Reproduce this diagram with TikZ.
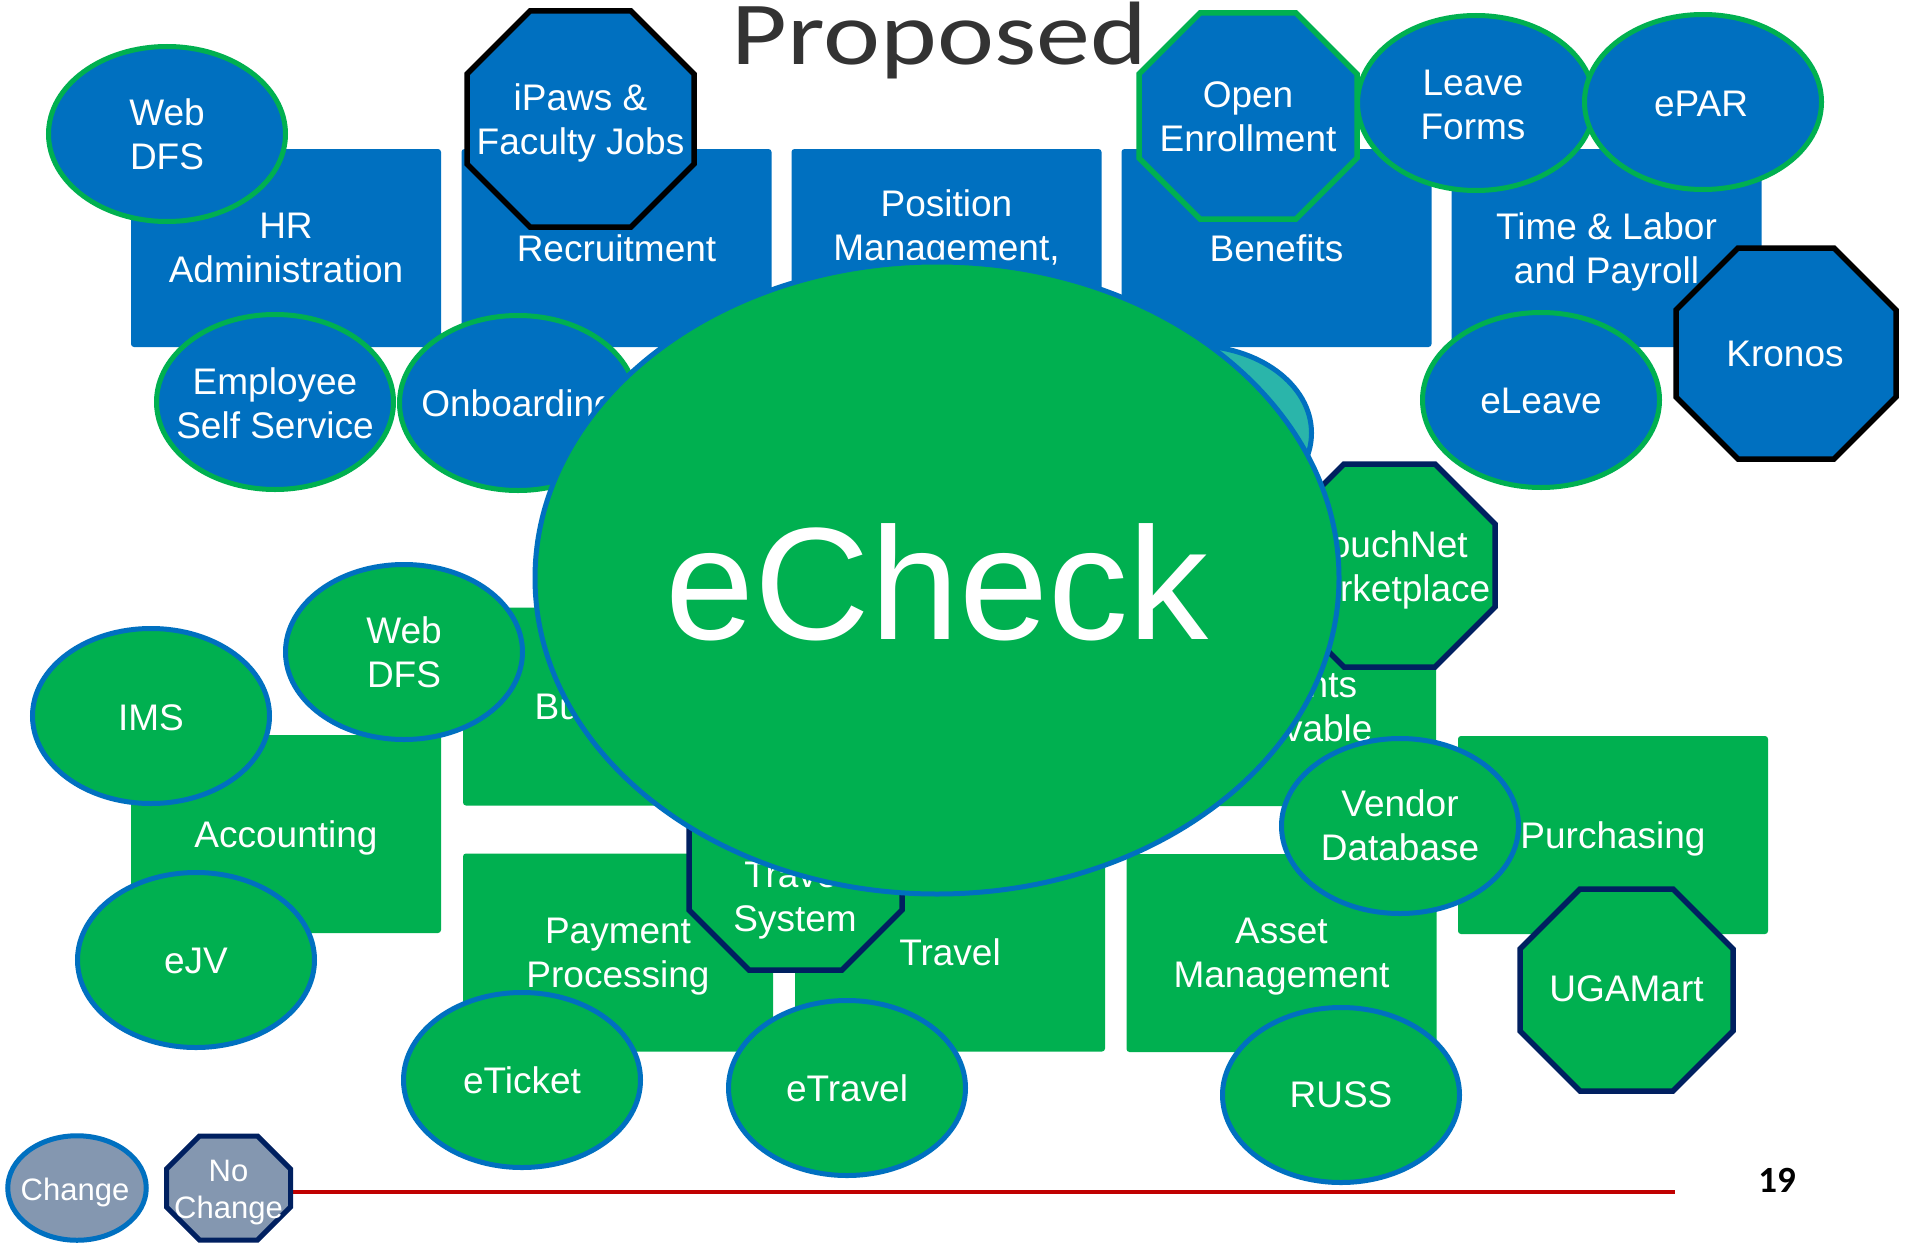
\documentclass[tikz,border=0pt]{standalone}
\usepackage{fontspec}
\setmainfont{Liberation Sans}
\newfontfamily\titlefont{Carlito}
\usetikzlibrary{shapes.geometric}
\definecolor{oblue}{HTML}{0070C0}
\definecolor{ogreen}{HTML}{00B050}
\definecolor{onavy}{HTML}{002060}
\definecolor{oteal}{HTML}{2AB5AA}
\definecolor{ogray}{HTML}{8497B0}
\definecolor{otitle}{HTML}{333333}
\definecolor{ored}{HTML}{C00000}
% octagon: style, cx, cy, half width, half height, corner cut
\newcommand\octpath[6]{%
  \draw[#1] ({#2-#4+#6},{#3-#5}) -- ({#2+#4-#6},{#3-#5}) -- ({#2+#4},{#3-#5+#6})
    -- ({#2+#4},{#3+#5-#6}) -- ({#2+#4-#6},{#3+#5}) -- ({#2-#4+#6},{#3+#5})
    -- ({#2-#4},{#3+#5-#6}) -- ({#2-#4},{#3-#5+#6}) -- cycle;}
\tikzset{
  box/.style={rectangle, rounded corners=3pt, inner sep=0pt, minimum width=310pt,
    minimum height=198pt, text=white, align=center, text depth=0pt, font=\fontsize{37}{44}\selectfont},
  bluebox/.style={box, fill=oblue},
  greenbox/.style={box, fill=ogreen},
  bubble/.style={ellipse, inner sep=0pt, minimum width=237pt, minimum height=175pt, line width=5pt},
  bbub/.style={bubble, fill=oblue, draw=ogreen},
  gbub/.style={bubble, fill=ogreen, draw=oblue},
  lbl/.style={text=white, align=center, inner sep=0pt, text depth=0pt, font=\fontsize{37}{44}\selectfont},
  octblack/.style={fill=oblue, draw=black, line width=5.5pt},
  octgreen/.style={fill=oblue, draw=ogreen, line width=5.5pt},
  octnavy/.style={fill=ogreen, draw=onavy, line width=5.5pt},
}
\begin{document}
\begin{tikzpicture}[x=1pt, y=-1pt]
\fill[white] (0,0) rectangle (1908,1244);
\useasboundingbox (0,0) rectangle (1908,1244);

% title
\node[anchor=base, inner sep=0pt, text=otitle, font=\titlefont\fontsize{90}{90}\selectfont] (title) at (939.5,65) {\scalebox{1.2}[1]{Proposed}};

% HR row (blue)
\node[bluebox] (hr) at (286,248) {HR\\Administration};
\node[bluebox] (recr) at (616.5,248) {Recruitment};
\node[bluebox] (pos) at (946.5,248) {};
\node[lbl] (postxt) at (946.5,225.5) {Position\\Management,};
\node[bluebox] (ben) at (1276.5,248) {Benefits};
\node[bluebox] (tl) at (1606.5,248) {Time \& Labor\\and Payroll};

% finance boxes (green)
\node[greenbox] (acc) at (286,834) {Accounting};
\node[greenbox] (bud) at (618,706.5) {Budgeting};
\node[greenbox] (ar) at (1281,707) {Accounts\\Receivable};
\node[greenbox] (pur) at (1613,835) {Purchasing};
\node[greenbox] (pay) at (618,952.5) {Payment\\Processing};
\node[greenbox] (trav) at (950,952.5) {Travel};
\node[greenbox] (asset) at (1281.5,953) {Asset\\Management};

% HR systems
\node[bbub] (webdfs1) at (167,134) {};
\node[lbl] at (webdfs1) {Web\\DFS};
\octpath{octblack}{580.5}{119}{113.5}{108}{63}
\node[lbl] (ipaws) at (580.5,119.5) {iPaws \&\\Faculty Jobs};
\octpath{octgreen}{1248}{116}{109}{103}{61}
\node[lbl] (openenr) at (1248,117) {Open\\Enrollment};
\node[bbub] (leave) at (1476,103) {};
\node[lbl] at (1473,105) {Leave\\Forms};
\node[bbub] (epar) at (1703,102) {};
\node[lbl] at (1701,104) {ePAR};
\node[bbub] (ess) at (275,402) {};
\node[lbl] at (275,403) {Employee\\Self Service};
\node[bbub] (onb) at (518,403) {};
\node[lbl] at (onb) {Onboarding};
\node[bbub] (eleave) at (1541,400) {};
\node[lbl] at (1541,401) {eLeave};
\octpath{octblack}{1786}{353.5}{110}{105.5}{62}
\node[lbl] (kronos) at (1785,354) {Kronos};
\node[bubble, fill=oteal, draw=oblue] (teal) at (1193,433) {};

% finance systems
\node[gbub] (webdfs2) at (404,652) {};
\node[lbl] at (webdfs2) {Web\\DFS};
\node[gbub] (ims) at (151,716) {};
\node[lbl] at (151,718) {IMS};
\node[gbub] (ejv) at (196,960) {};
\node[lbl] at (196,961) {eJV};
\node[gbub] (eticket) at (522,1080) {};
\node[lbl] at (eticket) {eTicket};
\node[gbub] (etravel) at (847,1088) {};
\node[lbl] at (etravel) {eTravel};
\node[gbub] (russ) at (1341,1095) {};
\node[lbl] at (russ) {RUSS};
\octpath{octnavy}{1626.5}{990}{106.5}{101}{60}
\node[lbl] (ugamart) at (1626.5,989) {UGAMart};
\octpath{octnavy}{1389.5}{565.5}{105.5}{101.5}{60}
\node[lbl] (touchnet) at (1389.5,566) {TouchNet\\Marketplace};
\octpath{octnavy}{795.5}{868}{106.5}{102}{60}
\node[lbl] (travsys) at (795,896) {Travel\\System};

% eCheck
\node[bubble, fill=ogreen, draw=oblue, minimum width=804pt, minimum height=632pt] (echeck) at (937,578) {};
\node[text=white, inner sep=0pt, font=\fontsize{160}{160}\selectfont] (echecktxt) at (937,582) {eCheck};

\node[gbub] (vendor) at (1400,826) {};
\node[lbl] at (1400,825) {Vendor\\Database};

% legend and footer
\coordinate (redL) at (228,1192);
\coordinate (redR) at (1675,1192);
\draw[ored, line width=4pt] (redL) -- (redR);
\node[ellipse, inner sep=0pt, minimum width=138.5pt, minimum height=104.5pt, line width=5pt, fill=ogray, draw=oblue] (chg) at (77,1188) {};
\node[lbl, font=\fontsize{31}{37}\selectfont] at (75,1189) {Change};
\octpath{fill=ogray, draw=onavy, line width=5pt}{228.5}{1188}{62}{52}{33}
\node[lbl, font=\fontsize{31}{37}\selectfont] (nochg) at (228.5,1189.5) {No\\Change};
\node[inner sep=0pt, font=\titlefont\bfseries\fontsize{37}{37}\selectfont] (page) at (1777,1180) {19};
\end{tikzpicture}
\end{document}
